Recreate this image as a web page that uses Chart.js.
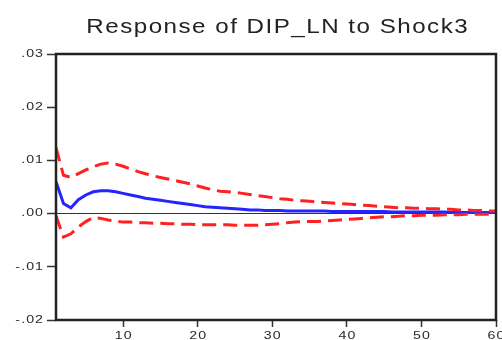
<!DOCTYPE html>
<html>
<head>
<meta charset="utf-8">
<script src="https://cdn.jsdelivr.net/npm/chart.js@4.4.1/dist/chart.umd.min.js"></script>
<style>
  html, body { margin: 0; padding: 0; background: #fff; }
  #wrap { width: 502px; height: 340px; }
</style>
</head>
<body>
<div id="wrap"><canvas id="chart" width="502" height="340"></canvas></div>
<script>
// Response of DIP_LN to Shock3, periods 1..60
const title = 'Response of DIP_LN to Shock3';
const periods = Array.from({ length: 60 }, (_, i) => i + 1);
const xTicks = [10, 20, 30, 40, 50, 60];
const yTicks = [-0.02, -0.01, 0, 0.01, 0.02, 0.03];

const response = [
  .0060, .0019, .0011, .0026, .0035, .0041, .0043, .0043, .0041, .0038,
  .0035, .0032, .0029, .0027, .0025, .0023, .0021, .0019, .0017, .0015,
  .0013, .0012, .0011, .0010, .0009, .0008, .0007, .0007, .0006, .0006,
  .0006, .0005, .0005, .0005, .0005, .0005, .0005, .0004, .0004, .0004,
  .0004, .0004, .0004, .0004, .0004, .0003, .0003, .0003, .0003, .0003,
  .0003, .0003, .0003, .0002, .0002, .0002, .0002, .0002, .0002, .0002
];

const upper = [
  .0124, .0072, .0068, .0075, .0082, .0088, .0093, .0095, .0093, .0089,
  .0084, .0079, .0075, .0071, .0068, .0065, .0062, .0059, .0056, .0052,
  .0048, .0045, .0042, .0041, .0040, .0038, .0036, .0034, .0032, .0030,
  .0028, .0027, .0025, .0024, .0023, .0022, .0021, .0020, .0019, .0018,
  .0017, .0016, .0015, .0014, .0013, .0012, .0011, .0011, .0010, .0010,
  .0009, .0009, .0008, .0008, .0007, .0007, .0006, .0006, .0005, .0005
];

const lower = [
  -.0004, -.0044, -.0038, -.0025, -.0015, -.0007, -.0009, -.0012, -.0014, -.0016,
  -.0016, -.0017, -.0017, -.0018, -.0018, -.0019, -.0019, -.0020, -.0020, -.0021,
  -.0021, -.0021, -.0021, -.0021, -.0022, -.0022, -.0022, -.0022, -.0021, -.0020,
  -.0019, -.0017, -.0016, -.0015, -.0015, -.0015, -.0014, -.0013, -.0012, -.0011,
  -.0010, -.0009, -.0008, -.0007, -.0006, -.0006, -.0005, -.0004, -.0004, -.0003,
  -.0003, -.0003, -.0002, -.0002, -.0002, -.0001, -.0001, -.0001, -.0001, -.0001
];

const toPoints = arr => arr.map((v, i) => ({ x: periods[i], y: v }));

// EViews style: ".03", "-.01"
const fmtY = v => {
  const s = Math.abs(v).toFixed(2).replace(/^0/, '');
  return v < -1e-9 ? '-' + s : s;
};

// the picture's text is stretched sideways and loosely spaced, so labels
// are drawn here with a horizontal scale instead of by the axes themselves
function wideText(ctx, text, x, y, size, stretch, gap, align, base) {
  ctx.save();
  ctx.font = size + 'px "Liberation Sans"';
  ctx.letterSpacing = gap + 'px';
  ctx.textBaseline = base;
  ctx.textAlign = 'left';
  const w = (ctx.measureText(text).width - gap) * stretch;
  let left = x;
  if (align === 'center') left = x - w / 2;
  if (align === 'right') left = x - w;
  ctx.translate(left, y);
  ctx.scale(stretch, 1);
  ctx.fillText(text, 0, 0);
  ctx.restore();
}

const frame = {
  id: 'frame',
  afterDraw(chart) {
    const { ctx, chartArea: a, scales } = chart;
    ctx.save();
    ctx.strokeStyle = '#222';
    ctx.lineWidth = 2.5;
    ctx.strokeRect(a.left, a.top, a.right - a.left, a.bottom - a.top);

    ctx.fillStyle = '#222';
    wideText(ctx, title, (a.left + a.right) / 2 + 1, 33, 21, 1.15, 1.3, 'center', 'alphabetic');

    ctx.fillStyle = '#2a2a2a';
    yTicks.forEach(v => {
      wideText(ctx, fmtY(v), 43, scales.y.getPixelForValue(v), 10.5, 1.35, 0.8, 'right', 'middle');
    });
    xTicks.forEach(v => {
      wideText(ctx, String(v), scales.x.getPixelForValue(v), 339, 10.5, 1.35, 0.8, 'center', 'alphabetic');
    });
    ctx.restore();
  }
};

new Chart(document.getElementById('chart'), {
  type: 'line',
  data: {
    datasets: [
      {
        data: toPoints(upper),
        borderColor: 'rgb(255, 32, 32)',
        borderWidth: 3,
        borderDash: [14, 7],
        pointRadius: 0,
        tension: 0
      },
      {
        data: toPoints(lower),
        borderColor: 'rgb(255, 32, 32)',
        borderWidth: 3,
        borderDash: [14, 7],
        pointRadius: 0,
        tension: 0
      },
      {
        data: toPoints(response),
        borderColor: 'rgb(36, 36, 255)',
        borderWidth: 3,
        pointRadius: 0,
        tension: 0
      }
    ]
  },
  options: {
    responsive: false,
    animation: false,
    events: [],
    layout: { padding: { top: 54, right: 6, bottom: 0, left: 0 } },
    plugins: {
      legend: { display: false },
      title: { display: false },
      tooltip: { enabled: false }
    },
    scales: {
      x: {
        type: 'linear',
        min: 1,
        max: 60,
        afterBuildTicks: scale => { scale.ticks = xTicks.map(v => ({ value: v })); },
        afterFit: scale => {
          scale.height = 20;
          scale.paddingLeft = 0;
          scale.paddingRight = 0;
        },
        border: { display: false },
        grid: {
          drawOnChartArea: false,
          tickLength: 7,
          tickColor: '#333',
          tickWidth: 1.5
        },
        ticks: { display: false }
      },
      y: {
        min: -0.02,
        max: 0.03,
        afterBuildTicks: scale => { scale.ticks = yTicks.map(v => ({ value: v })); },
        afterFit: scale => {
          scale.width = 56;
          scale.paddingTop = 0;
          scale.paddingBottom = 0;
        },
        border: { display: false },
        grid: {
          color: c => (c.tick && Math.abs(c.tick.value) < 1e-9 ? '#333' : 'transparent'),
          lineWidth: 1,
          tickLength: 9,
          tickColor: '#333',
          tickWidth: 1.5
        },
        ticks: { display: false }
      }
    }
  },
  plugins: [frame]
});
</script>
</body>
</html>
